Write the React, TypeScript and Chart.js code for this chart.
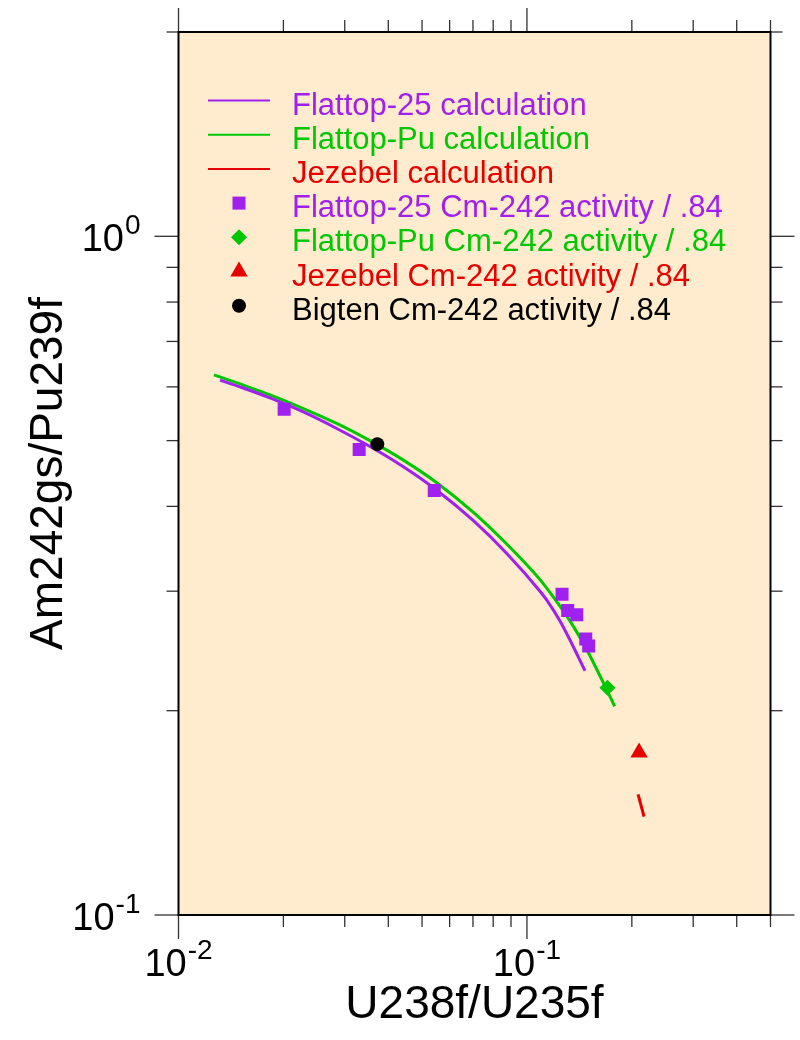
import React, { useEffect, useRef } from 'react';
import { Chart, registerables } from 'chart.js';

Chart.register(...registerables);

const FONT = '"Liberation Sans", Arial, Helvetica, sans-serif';
const PURPLE = 'rgb(160,32,240)';
const GREEN = 'rgb(0,200,0)';
const RED = 'rgb(230,0,0)';
const BLACK = 'rgb(0,0,0)';
const PLOT_BG = 'rgb(255,235,205)';

// ---- data ----
const flattop25CalcX = [0.01316, 0.01502, 0.01831, 0.02282, 0.02845, 0.03545, 0.04419, 0.05509, 0.07019, 0.0875, 0.109, 0.114, 0.1245, 0.133, 0.1468];
const flattop25CalcY = [0.614, 0.600, 0.578, 0.551, 0.521, 0.490, 0.4575, 0.4225, 0.381, 0.341, 0.300, 0.291, 0.271, 0.254, 0.229];

const flattopPuCalcX = [0.01264, 0.01502, 0.01831, 0.02282, 0.02845, 0.03545, 0.04419, 0.05509, 0.07019, 0.0875, 0.109, 0.1191, 0.133, 0.1485, 0.1621, 0.1786];
const flattopPuCalcY = [0.625, 0.606, 0.584, 0.5575, 0.530, 0.500, 0.468, 0.4335, 0.392, 0.352, 0.312, 0.294, 0.271, 0.246, 0.225, 0.203];

const jezebelCalcX = [0.2084, 0.2168];
const jezebelCalcY = [0.1506, 0.1396];

const flattop25DataX = [0.0201, 0.0330, 0.0542, 0.1261, 0.1309, 0.1390, 0.1475, 0.1504];
const flattop25DataY = [0.556, 0.485, 0.422, 0.297, 0.281, 0.277, 0.255, 0.249];

const flattopPuDataX = [0.1702];
const flattopPuDataY = [0.2162];

const jezebelDataX = [0.2098];
const jezebelDataY = [0.1735];

const bigtenDataX = [0.0372];
const bigtenDataY = [0.494];

const seriesLabels = [
  'Flattop-25 calculation',
  'Flattop-Pu calculation',
  'Jezebel calculation',
  'Flattop-25 Cm-242 activity / .84',
  'Flattop-Pu Cm-242 activity / .84',
  'Jezebel Cm-242 activity / .84',
  'Bigten Cm-242 activity / .84',
];

const xLimits = [0.01, 0.5];
const yLimits = [0.1, 2];
const xMajorTicks = [0.01, 0.1];
const xMinorTicks = [0.02, 0.03, 0.04, 0.05, 0.06, 0.07, 0.08, 0.09, 0.2, 0.3, 0.4, 0.5];
const yMajorTicks = [0.1, 1];
const yMinorTicks = [0.2, 0.3, 0.4, 0.5, 0.6, 0.7, 0.8, 0.9, 2];
const xTickLabels = [
  { value: 0.01, base: '10', exp: '-2' },
  { value: 0.1, base: '10', exp: '-1' },
];
const yTickLabels = [
  { value: 0.1, base: '10', exp: '-1' },
  { value: 1, base: '10', exp: '0' },
];
const xTitle = 'U238f/U235f';
const yTitle = 'Am242gs/Pu239f';

const pts = (xs: number[], ys: number[]) => xs.map((x, i) => ({ x, y: ys[i] }));

function drawMarker(ctx: CanvasRenderingContext2D, style: string, x: number, y: number, r: number, color: string) {
  ctx.save();
  ctx.fillStyle = color;
  ctx.beginPath();
  if (style === 'rect') {
    const s = Math.SQRT1_2 * r;
    ctx.rect(x - s, y - s, 2 * s, 2 * s);
  } else if (style === 'rectRot') {
    ctx.moveTo(x, y - r);
    ctx.lineTo(x + r, y);
    ctx.lineTo(x, y + r);
    ctx.lineTo(x - r, y);
    ctx.closePath();
  } else if (style === 'triangle') {
    let rad = 0;
    ctx.moveTo(x + Math.sin(rad) * r, y - Math.cos(rad) * r);
    rad += (2 * Math.PI) / 3;
    ctx.lineTo(x + Math.sin(rad) * r, y - Math.cos(rad) * r);
    rad += (2 * Math.PI) / 3;
    ctx.lineTo(x + Math.sin(rad) * r, y - Math.cos(rad) * r);
    ctx.closePath();
  } else {
    ctx.arc(x, y, r, 0, Math.PI * 2);
  }
  ctx.fill();
  ctx.restore();
}

function drawPow(ctx: CanvasRenderingContext2D, base: string, exp: string, x: number, y: number, align: 'center' | 'right') {
  const baseFont = `38px ${FONT}`;
  const expFont = `28px ${FONT}`;
  ctx.font = baseFont;
  const wb = ctx.measureText(base).width;
  ctx.font = expFont;
  const we = ctx.measureText(exp).width;
  const total = wb + we + 1;
  const start = align === 'center' ? x - total / 2 : x - total;
  ctx.textAlign = 'left';
  ctx.textBaseline = 'alphabetic';
  ctx.font = baseFont;
  ctx.fillText(base, start, y);
  ctx.font = expFont;
  ctx.fillText(exp, start + wb + 1, y - 17);
}

const decorPlugin = {
  id: 'decor',
  beforeDraw(chart: any) {
    const { ctx, chartArea: a } = chart;
    ctx.save();
    ctx.fillStyle = PLOT_BG;
    ctx.fillRect(a.left, a.top, a.right - a.left, a.bottom - a.top);
    ctx.restore();
  },
  afterDraw(chart: any) {
    const { ctx, chartArea: a, scales } = chart;
    const xs = scales.x;
    const ys = scales.y;
    ctx.save();
    // ticks (outward, all four sides)
    ctx.strokeStyle = 'rgb(50,50,50)';
    ctx.lineWidth = 1.3;
    const seg = (x1: number, y1: number, x2: number, y2: number) => {
      ctx.beginPath();
      ctx.moveTo(x1, y1);
      ctx.lineTo(x2, y2);
      ctx.stroke();
    };
    const xTick = (v: number, len: number) => {
      const p = xs.getPixelForValue(v);
      seg(p, a.bottom, p, a.bottom + len);
      seg(p, a.top, p, a.top - len);
    };
    const yTick = (v: number, len: number) => {
      const p = ys.getPixelForValue(v);
      seg(a.left, p, a.left - len, p);
      seg(a.right, p, a.right + len, p);
    };
    xMajorTicks.forEach((v) => xTick(v, 24));
    xMinorTicks.forEach((v) => xTick(v, 12));
    yMajorTicks.forEach((v) => yTick(v, 24));
    yMinorTicks.forEach((v) => yTick(v, 12));

    // frame
    ctx.strokeStyle = BLACK;
    ctx.lineWidth = 2;
    ctx.strokeRect(a.left, a.top, a.right - a.left, a.bottom - a.top);

    // tick labels
    ctx.fillStyle = BLACK;
    xTickLabels.forEach((t) => {
      drawPow(ctx, t.base, t.exp, xs.getPixelForValue(t.value), a.bottom + 61, 'center');
    });
    yTickLabels.forEach((t) => {
      drawPow(ctx, t.base, t.exp, a.left - 38, ys.getPixelForValue(t.value) + 15, 'right');
    });

    // axis titles
    ctx.font = `46px ${FONT}`;
    ctx.textAlign = 'center';
    ctx.textBaseline = 'alphabetic';
    ctx.fillText(xTitle, (a.left + a.right) / 2, 1018);
    ctx.save();
    ctx.translate(62, (a.top + a.bottom) / 2);
    ctx.rotate(-Math.PI / 2);
    ctx.fillText(yTitle, 0, 0);
    ctx.restore();

    // legend
    const ds = chart.data.datasets;
    const rowStart = 100.5;
    const rowGap = 34.2;
    ctx.font = `31px ${FONT}`;
    ctx.textAlign = 'left';
    ctx.textBaseline = 'alphabetic';
    ds.forEach((d: any, i: number) => {
      const ry = rowStart + i * rowGap;
      const color = d.legendColor;
      if (d.showLine) {
        ctx.strokeStyle = color;
        ctx.lineWidth = 2;
        seg(208, ry, 270, ry);
      } else {
        drawMarker(ctx, d.pointStyle, 239, ry, d.pointRadius, color);
      }
      ctx.fillStyle = color;
      ctx.fillText(d.label, 292, ry + 14);
    });
    ctx.restore();
  },
};

export default function App() {
  const ref = useRef<HTMLCanvasElement | null>(null);
  useEffect(() => {
    if (!ref.current) return;
    const lineDs = (label: string, xs: number[], ys: number[], color: string) => ({
      label,
      data: pts(xs, ys),
      showLine: true,
      borderColor: color,
      backgroundColor: color,
      legendColor: color,
      borderWidth: 3,
      pointRadius: 0,
      cubicInterpolationMode: 'monotone',
      order: 2,
    });
    const ptDs = (label: string, xs: number[], ys: number[], color: string, style: string, r: number) => ({
      label,
      data: pts(xs, ys),
      showLine: false,
      backgroundColor: color,
      borderColor: color,
      legendColor: color,
      pointStyle: style,
      pointRadius: r,
      pointBorderWidth: 0,
      order: 1,
    });
    const chart = new Chart(ref.current, {
      type: 'scatter',
      data: {
        datasets: [
          lineDs(seriesLabels[0], flattop25CalcX, flattop25CalcY, PURPLE),
          lineDs(seriesLabels[1], flattopPuCalcX, flattopPuCalcY, GREEN),
          lineDs(seriesLabels[2], jezebelCalcX, jezebelCalcY, RED),
          ptDs(seriesLabels[3], flattop25DataX, flattop25DataY, PURPLE, 'rect', 9.2),
          ptDs(seriesLabels[4], flattopPuDataX, flattopPuDataY, GREEN, 'rectRot', 8),
          ptDs(seriesLabels[5], jezebelDataX, jezebelDataY, RED, 'triangle', 10),
          ptDs(seriesLabels[6], bigtenDataX, bigtenDataY, BLACK, 'circle', 7),
        ] as any,
      },
      options: {
        responsive: false,
        animation: false,
        events: [],
        layout: { padding: { left: 178.5, right: 29.5, top: 32, bottom: 125 } },
        scales: {
          x: { type: 'logarithmic', display: false, min: xLimits[0], max: xLimits[1] },
          y: { type: 'logarithmic', display: false, min: yLimits[0], max: yLimits[1] },
        },
        plugins: {
          legend: { display: false },
          tooltip: { enabled: false },
        },
      },
      plugins: [decorPlugin],
    });
    return () => chart.destroy();
  }, []);
  return (
    <div style={{ position: 'absolute', left: 0, top: 0, width: 800, height: 1040, background: '#fff' }}>
      <canvas ref={ref} width={800} height={1040} style={{ display: 'block', width: 800, height: 1040 }} />
    </div>
  );
}
